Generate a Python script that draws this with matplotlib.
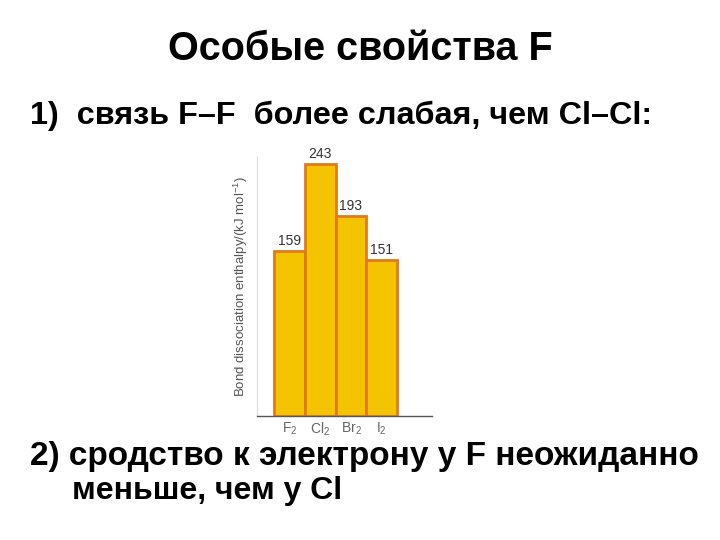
import matplotlib.pyplot as plt

molecules = ["F$_2$", "Cl$_2$", "Br$_2$", "I$_2$"]
enthalpy = [159, 243, 193, 151]

plt.rcParams["font.family"] = ["Liberation Sans", "DejaVu Sans"]
plt.rcParams["mathtext.fontset"] = "custom"
plt.rcParams["mathtext.rm"] = "Liberation Sans"

fig = plt.figure(figsize=(7.2, 5.4), dpi=100)

fig.text(0.5, 0.91, "Особые свойства F", ha="center", va="center",
         fontsize=28.5, fontweight="bold")
fig.text(0.042, 0.785, "1)  связь F–F  более слабая, чем Cl–Cl:", ha="left", va="center",
         fontsize=23.3, fontweight="bold")
fig.text(0.042, 0.155, "2) сродство к электрону у F неожиданно", ha="left", va="center",
         fontsize=24, fontweight="bold")
fig.text(0.1, 0.091, "меньше, чем у Cl", ha="left", va="center",
         fontsize=23, fontweight="bold")

ax = fig.add_axes([0.357, 0.2296, 0.243, 0.4794])
x = list(range(len(molecules)))
ax.bar(x, enthalpy, width=1.0, color="#F5C400", edgecolor="#E07A1F", linewidth=2)

for xi, v in zip(x, enthalpy):
    ax.text(xi, v + 3, str(v), ha="center", va="bottom", fontsize=10, color="#333333")

ax.set_xlim(-1.05, 4.63)
ax.set_ylim(0, 250)
ax.set_xticks(x)
ax.set_xticklabels(molecules, fontsize=10, color="#666666")
ax.tick_params(axis="x", length=0, pad=3)
ax.set_yticks([])
ax.set_ylabel("Bond dissociation enthalpy/(kJ mol$^{-1}$)", fontsize=9.5, color="#555555", labelpad=5)

ax.spines["top"].set_visible(False)
ax.spines["right"].set_visible(False)
ax.spines["left"].set_color("#dddddd")
ax.spines["left"].set_linewidth(0.8)
ax.spines["bottom"].set_color("#555555")
ax.spines["bottom"].set_linewidth(1)

fig.savefig("out.png", dpi=100)
